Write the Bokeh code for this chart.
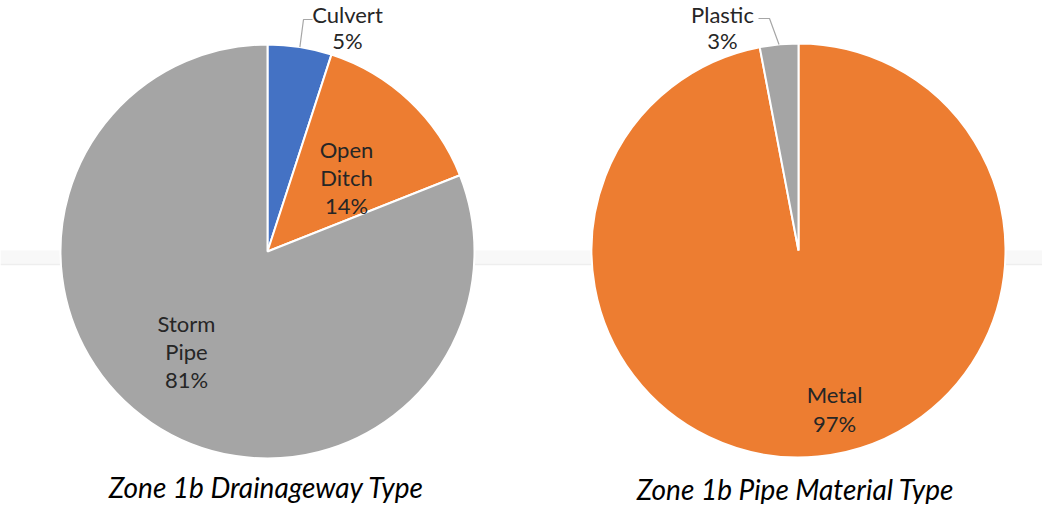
import numpy as np
from bokeh.plotting import figure
from bokeh.models import Range1d
from bokeh.core.properties import value
from bokeh.embed import file_html
from bokeh.resources import INLINE

# ---- data ----
left_title = "Zone 1b Drainageway Type"
left_categories = ["Culvert", "Open Ditch", "Storm Pipe"]
left_values = [5, 14, 81]

right_title = "Zone 1b Pipe Material Type"
right_categories = ["Metal", "Plastic"]
right_values = [97, 3]

# ---- layout / style ----
W, H = 1042, 504
BLUE, ORANGE, GRAY = "#4472C4", "#ED7D31", "#A5A5A5"
left_colors = [BLUE, ORANGE, GRAY]
right_colors = [ORANGE, GRAY]
FONT = value("Lato")
LABEL_SIZE = value("22px")


def X(x):
    return x - 8


def Y(y):
    return 512 - y


p = figure(width=W, height=H, x_range=Range1d(0, W), y_range=Range1d(0, H),
           output_backend="svg", toolbar_location=None, min_border=0)
p.axis.visible = False
p.grid.visible = False
p.outline_line_color = None
p.background_fill_color = "white"
p.border_fill_color = "white"

# faint scan band in background
p.quad(left=0, right=W, bottom=Y(272), top=Y(258), fill_color="#f8f8f8", line_color=None)
p.segment(x0=0, x1=W, y0=Y(272), y1=Y(272), line_color="#eeeeee", line_width=1.5)


def draw_pie(cx, cy, r, vals, colors):
    tot = float(sum(vals))
    fr = np.cumsum([0] + list(vals)) / tot
    starts = np.pi / 2 - 2 * np.pi * fr[1:]
    ends = np.pi / 2 - 2 * np.pi * fr[:-1]
    p.wedge(x=X(cx), y=Y(cy), radius=r, start_angle=list(starts), end_angle=list(ends),
            direction="anticlock", fill_color=colors, line_color="white", line_width=2)
    mids = np.pi / 2 - 2 * np.pi * (fr[:-1] + fr[1:]) / 2
    return [(X(cx) + r * np.cos(a), Y(cy) + r * np.sin(a)) for a in mids]


R = 207
left_edge = draw_pie(275, 259, R, left_values, left_colors)
right_edge = draw_pie(806, 258, R, right_values, right_colors)

# label block anchor (centre x, first line y, line step) in page pixels
left_label_pos = [(355, 22, 26), (354, 157, 28), (194, 331, 28)]
right_label_pos = [(842, 402, 29), (730, 22, 26)]


def draw_labels(cats, vals, positions):
    tot = float(sum(vals))
    for cat, v, (lx, ly, step) in zip(cats, vals, positions):
        lines = cat.split(" ") + [f"{round(100 * v / tot)}%"]
        xs = [X(lx)] * len(lines)
        ys = [Y(ly + i * step) for i in range(len(lines))]
        p.text(x=xs, y=ys, text=lines, text_align="center", text_baseline="middle",
               text_font=FONT, text_font_size=LABEL_SIZE, text_color="#262626")


draw_labels(left_categories, left_values, left_label_pos)
draw_labels(right_categories, right_values, right_label_pos)

# leader lines for the small outside labels
LEADER = "#A6A6A6"
cx_end, cy_end = left_edge[0]
p.line(x=[X(320), X(311), cx_end], y=[Y(27), Y(27), cy_end], line_color=LEADER, line_width=1.2)
px_end, py_end = right_edge[1]
p.line(x=[X(766), X(777), px_end], y=[Y(26), Y(26), py_end], line_color=LEADER, line_width=1.2)

# titles
p.text(x=[X(274)], y=[Y(494)], text=[left_title], text_align="center", text_baseline="middle",
       text_font=FONT, text_font_size=value("28px"), text_font_style="italic", text_color="black")
p.text(x=[X(803)], y=[Y(496)], text=[right_title], text_align="center", text_baseline="middle",
       text_font=FONT, text_font_size=value("28px"), text_font_style="italic", text_color="black")

open("out.html", "w").write(file_html(p, INLINE))
